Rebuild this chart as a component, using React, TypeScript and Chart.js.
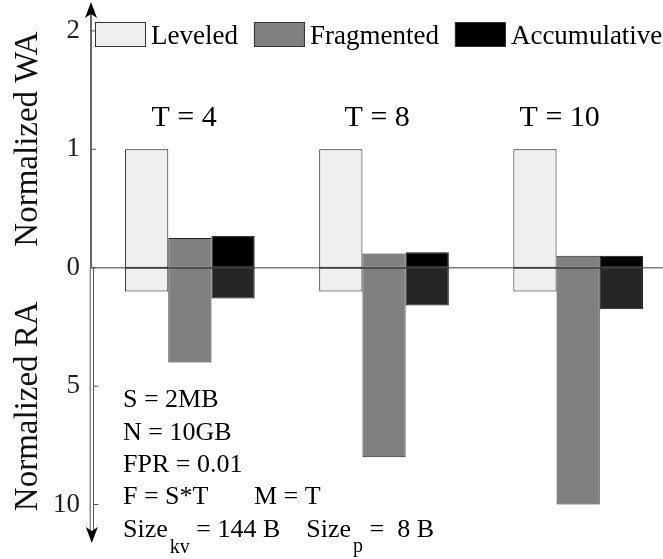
import React, { useEffect, useRef } from 'react';
import { Chart, registerables } from 'chart.js';

Chart.register(...registerables);

// ---- data ----
const groupPositions = [0, 1, 2];
const groupLabels = ['T = 4', 'T = 8', 'T = 10'];
const seriesNames = ['Leveled', 'Fragmented', 'Accumulative'];

const leveledWA = [1, 1, 1];
const leveledRA = [1, 1, 1];
const fragmentedWA = [0.25, 0.12, 0.1];
const fragmentedRA = [4, 8, 10];
const accumulativeWA = [0.27, 0.13, 0.1];
const accumulativeRA = [1.3, 1.6, 1.75];

const waTicks = [2, 1, 0];
const raTicks = [5, 10];

const noteLines = ['S = 2MB', 'N = 10GB', 'FPR = 0.01', 'F = S*T       M = T'];

// one WA unit on the upper half equals this many RA units on the lower half
const RA_PER_UNIT = 5;
const toLower = (v: number) => -v / RA_PER_UNIT;

const SERIF = "'Liberation Serif', 'Times New Roman', serif";

const upperFill = ['#efefef', '#808080', '#000000'];
const lowerFill = ['#efefef', '#808080', '#262626'];
const edgeColor = ['#111111', '#222222', '#111111'];

const waSeries = [leveledWA, fragmentedWA, accumulativeWA];
const raSeries = [leveledRA, fragmentedRA, accumulativeRA];

const tickValues = [...waTicks, ...raTicks.map(toLower)];
const tickText = [...waTicks.map(String), ...raTicks.map(String)];

// nudges for the group captions, in group units
const captionShift = [-0.03, -0.035, -0.095];

const decor = {
  id: 'decor',
  beforeDatasetsDraw(chart: any) {
    const { ctx, chartArea } = chart;
    const y0 = chart.scales.y.getPixelForValue(0);
    ctx.save();
    ctx.strokeStyle = '#7d7d7d';
    ctx.lineWidth = 1.5;
    ctx.beginPath();
    ctx.moveTo(chartArea.left, y0);
    ctx.lineTo(chartArea.right, y0);
    ctx.stroke();
    ctx.restore();
  },
  afterDraw(chart: any) {
    const { ctx, chartArea } = chart;
    const ys = chart.scales.y;
    const xs = chart.scales.x;
    const ax = chartArea.left;
    const y0 = ys.getPixelForValue(0);
    const top = chartArea.top;
    const bottom = chartArea.bottom;
    ctx.save();

    // vertical axis: single shaft up, double shaft down
    ctx.strokeStyle = '#333';
    ctx.lineWidth = 1.5;
    ctx.beginPath();
    ctx.moveTo(ax, y0);
    ctx.lineTo(ax, top + 12);
    ctx.stroke();
    ctx.lineWidth = 1;
    ctx.strokeStyle = '#555';
    ctx.beginPath();
    ctx.moveTo(ax - 0.8, y0);
    ctx.lineTo(ax - 0.8, bottom - 10);
    ctx.moveTo(ax + 2.5, y0);
    ctx.lineTo(ax + 2.5, bottom - 10);
    ctx.stroke();

    // arrow heads
    ctx.fillStyle = '#000';
    ctx.beginPath();
    ctx.moveTo(ax, top);
    ctx.lineTo(ax + 6, top + 16);
    ctx.lineTo(ax, top + 12);
    ctx.lineTo(ax - 6, top + 16);
    ctx.closePath();
    ctx.fill();
    const bx = ax + 0.8;
    ctx.beginPath();
    ctx.moveTo(bx, bottom);
    ctx.lineTo(bx + 6, bottom - 16);
    ctx.lineTo(bx, bottom - 12);
    ctx.lineTo(bx - 6, bottom - 16);
    ctx.closePath();
    ctx.fill();

    // inner tick marks
    ctx.strokeStyle = '#555';
    ctx.lineWidth = 1;
    tickValues.forEach((v) => {
      const py = ys.getPixelForValue(v);
      const sx = v < 0 ? ax + 2.5 : ax;
      ctx.beginPath();
      ctx.moveTo(sx, py);
      ctx.lineTo(sx + 5, py);
      ctx.stroke();
    });

    // axis titles
    ctx.fillStyle = '#111';
    ctx.font = `33px ${SERIF}`;
    ctx.textAlign = 'center';
    ctx.textBaseline = 'alphabetic';
    const titles: [string, number][] = [
      ['Normalized WA', ys.getPixelForValue(1.087)],
      ['Normalized RA', ys.getPixelForValue(-1.17)],
    ];
    titles.forEach(([t, cy]) => {
      ctx.save();
      ctx.translate(37, cy);
      ctx.rotate(-Math.PI / 2);
      ctx.fillText(t, 0, 0);
      ctx.restore();
    });

    // legend
    ctx.textAlign = 'left';
    ctx.font = `27px ${SERIF}`;
    let lx = ax + 4;
    const boxTop = top + 20;
    seriesNames.forEach((name, i) => {
      ctx.fillStyle = upperFill[i];
      ctx.fillRect(lx, boxTop, 51, 25);
      ctx.strokeStyle = '#333';
      ctx.lineWidth = 1;
      ctx.strokeRect(lx + 0.5, boxTop + 0.5, 50, 24);
      ctx.fillStyle = '#000';
      ctx.fillText(name, lx + 56, boxTop + 21.5);
      lx += 56 + ctx.measureText(name).width + 16;
    });

    // group captions
    ctx.font = `30px ${SERIF}`;
    ctx.textAlign = 'center';
    groupLabels.forEach((lab, i) => {
      const px = xs.getPixelForValue(groupPositions[i] + captionShift[i]);
      ctx.fillText(lab, px, ys.getPixelForValue(1.197));
    });

    // parameter notes
    ctx.textAlign = 'left';
    ctx.font = `26px ${SERIF}`;
    const nx = ax + 32;
    const ny = ys.getPixelForValue(0) + 139.6;
    const step = 32.3;
    noteLines.forEach((line, i) => ctx.fillText(line, nx, ny + i * step));
    const by = ny + noteLines.length * step;
    const main = `26px ${SERIF}`;
    const sub = `20px ${SERIF}`;
    let x = nx;
    const seg = (t: string, font: string, dy: number, gap = 0) => {
      ctx.font = font;
      ctx.fillText(t, x, by + dy);
      x += ctx.measureText(t).width + gap;
    };
    seg('Size', main, 0, 2);
    seg('kv', sub, 16);
    seg(' = 144 B', main, 0, 26);
    seg('Size', main, 0, 2);
    seg('p', sub, 15);
    seg(' =  8 B', main, 0);

    ctx.restore();
  },
};

export default function App() {
  const ref = useRef<HTMLCanvasElement | null>(null);

  useEffect(() => {
    if (!ref.current) return;
    const datasets: any[] = [];
    seriesNames.forEach((name, i) => {
      const common = {
        stack: name,
        borderColor: edgeColor[i],
        borderWidth: 1,
        borderSkipped: false,
        categoryPercentage: 0.6675,
        barPercentage: 1,
      };
      datasets.push({ ...common, label: name, data: waSeries[i], backgroundColor: upperFill[i] });
      datasets.push({ ...common, label: name + ' RA', data: raSeries[i].map(toLower), backgroundColor: lowerFill[i] });
    });

    const chart = new Chart(ref.current, {
      type: 'bar',
      data: { labels: groupPositions, datasets },
      options: {
        animation: false,
        responsive: false,
        devicePixelRatio: 1,
        layout: { padding: { top: 2, bottom: 16, left: 0, right: 0 } },
        plugins: { legend: { display: false }, tooltip: { enabled: false } },
        scales: {
          x: {
            type: 'linear',
            min: -0.5094,
            max: 2.437,
            offset: false,
            stacked: true,
            display: false,
            afterBuildTicks: (s: any) => {
              s.ticks = groupPositions.map((v) => ({ value: v }));
            },
          },
          y: {
            type: 'linear',
            stacked: true,
            min: -2.325,
            max: 2.244,
            grid: { display: false, drawTicks: false },
            border: { display: false },
            afterBuildTicks: (s: any) => {
              s.ticks = tickValues.map((v) => ({ value: v }));
            },
            afterFit: (s: any) => {
              s.width = 91;
              s.paddingTop = 0;
              s.paddingBottom = 0;
            },
            ticks: {
              padding: 11,
              color: '#222',
              font: { family: SERIF, size: 27 },
              callback: (v: any) => {
                const k = tickValues.findIndex((t) => Math.abs(t - Number(v)) < 1e-6);
                return k >= 0 ? tickText[k] : '';
              },
            },
          },
        },
      } as any,
      plugins: [decor],
    });
    return () => chart.destroy();
  }, []);

  return (
    <div style={{ position: 'absolute', left: 0, top: 0, width: 663, height: 559, background: '#fff' }}>
      <canvas ref={ref} width={663} height={559} />
    </div>
  );
}
